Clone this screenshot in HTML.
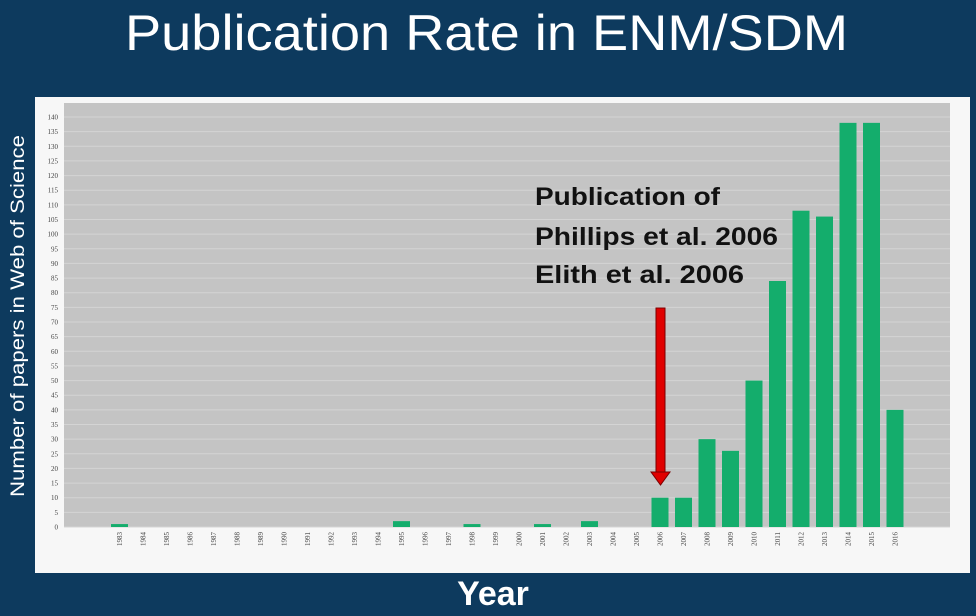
<!DOCTYPE html>
<html><head><meta charset="utf-8"><style>
html,body{margin:0;padding:0;background:#0d3a5e;}
svg{display:block;}
</style></head><body>
<svg id="chart" width="976" height="616" viewBox="0 0 976 616" xmlns="http://www.w3.org/2000/svg">
<rect x="0" y="0" width="976" height="616" fill="#0d3a5e"/>
<text x="125" y="50" fill="#ffffff" font-family="Liberation Sans, sans-serif" font-size="50" textLength="723" lengthAdjust="spacingAndGlyphs">Publication Rate in ENM/SDM</text>
<rect x="35" y="97" width="935" height="476" fill="#f7f7f7"/>
<rect x="64" y="103" width="886" height="424" fill="#c4c4c4"/>
<g id="grid"></g>
<g id="yticks"></g>
<g id="bars"></g>
<g id="xticks"></g>
<text transform="translate(24,497) rotate(-90)" fill="#ffffff" font-family="Liberation Sans, sans-serif" font-size="19" textLength="362" lengthAdjust="spacingAndGlyphs">Number of papers in Web of Science</text>
<text x="493" y="605" text-anchor="middle" fill="#ffffff" font-family="Liberation Sans, sans-serif" font-weight="bold" font-size="34">Year</text>
<g font-family="Liberation Sans, sans-serif" font-weight="bold" font-size="25" fill="#111">
<text x="535" y="205" textLength="185" lengthAdjust="spacingAndGlyphs">Publication of</text>
<text x="535" y="245" textLength="243" lengthAdjust="spacingAndGlyphs">Phillips et al. 2006</text>
<text x="535" y="283" textLength="209" lengthAdjust="spacingAndGlyphs">Elith et al. 2006</text>
</g>
<g>
<rect x="656" y="308" width="9" height="165" fill="#e00000" stroke="#7a0000" stroke-width="1"/>
<polygon points="651,472 670,472 660.5,485" fill="#e00000" stroke="#7a0000" stroke-width="1"/>
</g>
</svg>
<script>
const years = [1983,1984,1985,1986,1987,1988,1989,1990,1991,1992,1993,1994,1995,1996,1997,1998,1999,2000,2001,2002,2003,2004,2005,2006,2007,2008,2009,2010,2011,2012,2013,2014,2015,2016];
const papers = [1,0,0,0,0,0,0,0,0,0,0,0,2,0,0,1,0,0,1,0,2,0,0,10,10,30,26,50,84,108,106,138,138,40];
const yTicks = [0,5,10,15,20,25,30,35,40,45,50,55,60,65,70,75,80,85,90,95,100,105,110,115,120,125,130,135,140];

const NS = "http://www.w3.org/2000/svg";
const y0 = 527, yScale = 410/140;
function yPos(v){ return y0 - v*yScale; }
function xPos(i){ return 119.5 + i*23.5; }

const grid = document.getElementById('grid');
const yt = document.getElementById('yticks');
yTicks.forEach(t=>{
  const l = document.createElementNS(NS,'line');
  
  
  l.setAttribute('x1',64); l.setAttribute('x2',950);
  l.setAttribute('y1',yPos(t)); l.setAttribute('y2',yPos(t));
  l.setAttribute('stroke','#d4d4d4'); l.setAttribute('stroke-width','1');
  grid.appendChild(l);
  const tx = document.createElementNS(NS,'text');
  
  
  tx.setAttribute('x',58); tx.setAttribute('y',yPos(t)+2.5);
  tx.setAttribute('text-anchor','end');
  tx.setAttribute('font-family','Liberation Serif, serif');
  tx.setAttribute('font-size','7');
  tx.setAttribute('fill','#444');
  tx.textContent = t;
  yt.appendChild(tx);
});

const bars = document.getElementById('bars');
const xt = document.getElementById('xticks');
years.forEach((yr,i)=>{
  const v = papers[i];
  if(v>0){
    const r = document.createElementNS(NS,'rect');
    
    
    r.setAttribute('x',xPos(i)-8.5); r.setAttribute('width',17);
    r.setAttribute('y',yPos(v)); r.setAttribute('height',y0-yPos(v));
    r.setAttribute('fill','#14ad6c');
    bars.appendChild(r);
  }
  const tx = document.createElementNS(NS,'text');
  
  
  tx.setAttribute('transform','translate('+(xPos(i)+2.5)+',532) rotate(-90)');
  tx.setAttribute('text-anchor','end');
  tx.setAttribute('font-family','Liberation Serif, serif');
  tx.setAttribute('font-size','7');
  tx.setAttribute('fill','#444');
  tx.textContent = yr;
  xt.appendChild(tx);
});
</script>
</body></html>
